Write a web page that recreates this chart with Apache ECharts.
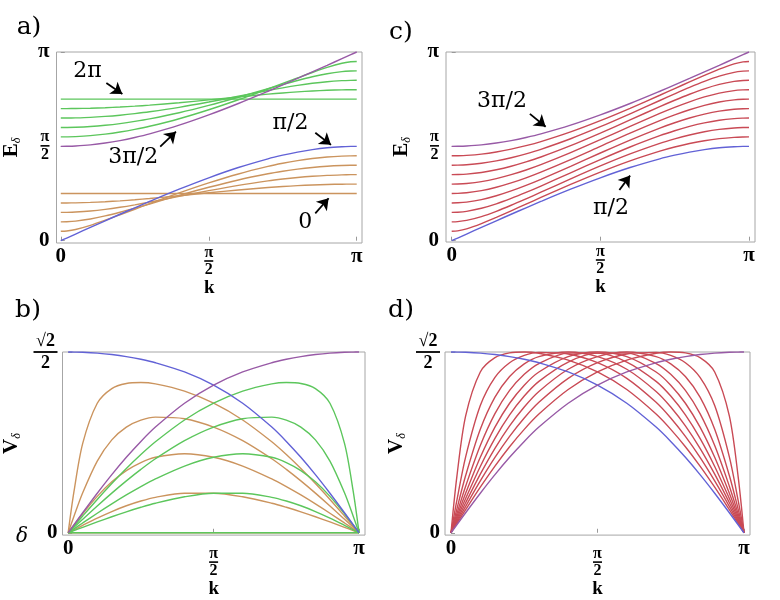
<!DOCTYPE html>
<html><head><meta charset="utf-8">
<script src="https://cdn.jsdelivr.net/npm/echarts@6/dist/echarts.min.js"></script>
<style>html,body{margin:0;padding:0;background:#fff}#c{width:780px;height:600px}</style>
</head><body><div id="c"></div>
<script>
// k sample points, in units of pi
const kGrid = [0,0.02,0.05,0.1,0.15,0.2,0.25,0.3,0.4,0.5,0.6,0.7,0.75,0.8,0.85,0.9,0.95,0.98,1];
// tick values (units of pi on k and E axes)
const kTicks = [0, 0.5, 1];
const eTicks = [0, 0.5, 1];
const vTicks = [0, 0.70711];

// ---- E_delta(k), units of pi ----
const eBlue   = [0,0.0141,0.0353,0.0706,0.1056,0.1402,0.1744,0.2081,0.2729,0.3333,0.3877,0.4339,0.4532,0.4696,0.4826,0.4922,0.4980,0.4997,0.5];
const ePurple = [0.5,0.5003,0.5020,0.5078,0.5174,0.5304,0.5468,0.5661,0.6123,0.6667,0.7271,0.7919,0.8256,0.8598,0.8944,0.9294,0.9647,0.9859,1];
const eOrange0 = [0.25,0.25,0.25,0.25,0.25,0.25,0.25,0.25,0.25,0.25,0.25,0.25,0.25,0.25,0.25,0.25,0.25,0.25,0.25];
const eOrange1 = [0.2,0.2001,0.2007,0.2029,0.2064,0.2112,0.2169,0.2235,0.2383,0.2539,0.2688,0.2817,0.2871,0.2916,0.2952,0.2979,0.2995,0.2999,0.3];
const eOrange2 = [0.15,0.1503,0.1519,0.1573,0.1659,0.1770,0.1900,0.2043,0.2348,0.2652,0.2932,0.3169,0.3267,0.3349,0.3414,0.3462,0.3490,0.3499,0.35];
const eOrange3 = [0.1,0.1007,0.1040,0.1151,0.1313,0.1509,0.1723,0.1947,0.2399,0.2830,0.3219,0.3545,0.3680,0.3793,0.3882,0.3947,0.3987,0.3998,0.4];
const eOrange4 = [0.05,0.0516,0.0595,0.0816,0.1086,0.1374,0.1667,0.1960,0.2530,0.3061,0.3537,0.3937,0.4103,0.4242,0.4353,0.4434,0.4484,0.4497,0.45];
const eGreen0 = [0.75,0.75,0.75,0.75,0.75,0.75,0.75,0.75,0.75,0.75,0.75,0.75,0.75,0.75,0.75,0.75,0.75,0.75,0.75];
const eGreen1 = [0.7,0.7001,0.7005,0.7021,0.7048,0.7084,0.7129,0.7183,0.7312,0.7461,0.7617,0.7765,0.7831,0.7888,0.7936,0.7971,0.7993,0.7999,0.8];
const eGreen2 = [0.65,0.6501,0.6510,0.6538,0.6586,0.6651,0.6733,0.6831,0.7068,0.7348,0.7652,0.7957,0.8100,0.8230,0.8341,0.8427,0.8481,0.8497,0.85];
const eGreen3 = [0.6,0.6002,0.6013,0.6053,0.6118,0.6207,0.6321,0.6455,0.6781,0.7170,0.7601,0.8053,0.8277,0.8491,0.8687,0.8849,0.8960,0.8993,0.9];
const eGreen4 = [0.55,0.5503,0.5516,0.5566,0.5647,0.5758,0.5897,0.6063,0.6463,0.6939,0.7470,0.8040,0.8333,0.8626,0.8914,0.9184,0.9405,0.9484,0.95];
const eRed1 = [0.05,0.0522,0.0627,0.0907,0.1238,0.1586,0.1939,0.2292,0.2982,0.3636,0.4232,0.4747,0.4965,0.5150,0.5300,0.5410,0.5477,0.5496,0.55];
const eRed2 = [0.1,0.1013,0.1077,0.1280,0.1559,0.1879,0.2220,0.2570,0.3275,0.3960,0.4597,0.5157,0.5397,0.5604,0.5773,0.5897,0.5974,0.5996,0.6];
const eRed3 = [0.15,0.1509,0.1557,0.1717,0.1952,0.2239,0.2558,0.2896,0.3598,0.4299,0.4966,0.5566,0.5827,0.6056,0.6243,0.6384,0.6471,0.6495,0.65];
const eRed4 = [0.2,0.2008,0.2046,0.2178,0.2382,0.2639,0.2934,0.3255,0.3942,0.4647,0.5334,0.5970,0.6252,0.6502,0.6710,0.6868,0.6966,0.6995,0.7];
const eRed5 = [0.25,0.2506,0.2539,0.2652,0.2830,0.3061,0.3333,0.3636,0.4299,0.5,0.5701,0.6364,0.6667,0.6939,0.7170,0.7348,0.7461,0.7494,0.75];
const eRed6 = [0.3,0.3005,0.3034,0.3132,0.3290,0.3498,0.3748,0.4030,0.4666,0.5353,0.6058,0.6745,0.7066,0.7361,0.7618,0.7822,0.7954,0.7992,0.8];
const eRed7 = [0.35,0.3505,0.3529,0.3616,0.3757,0.3944,0.4173,0.4434,0.5034,0.5701,0.6402,0.7104,0.7442,0.7761,0.8048,0.8283,0.8443,0.8491,0.85];
const eRed8 = [0.4,0.4004,0.4026,0.4103,0.4227,0.4396,0.4603,0.4843,0.5403,0.6040,0.6725,0.7430,0.7780,0.8121,0.8441,0.8720,0.8923,0.8987,0.9];
const eRed9 = [0.45,0.4504,0.4523,0.4590,0.4700,0.4850,0.5035,0.5253,0.5768,0.6364,0.7018,0.7708,0.8061,0.8414,0.8762,0.9093,0.9373,0.9478,0.95];

// ---- V_delta(k) ----
const vBlue   = [0.7071,0.7068,0.7060,0.7027,0.6971,0.6892,0.6786,0.6652,0.6290,0.5774,0.5067,0.4134,0.3574,0.2952,0.2273,0.1546,0.0782,0.0314,0];
const vPurple = [0,0.0314,0.0782,0.1546,0.2273,0.2952,0.3574,0.4134,0.5067,0.5774,0.6290,0.6652,0.6786,0.6892,0.6971,0.7027,0.7060,0.7068,0.7071];
const vZero   = [0,0,0,0,0,0,0,0,0,0,0,0,0,0,0,0,0,0,0];
const vOrange1 = [0,0.0118,0.0293,0.0574,0.0831,0.1056,0.1242,0.1386,0.1546,0.1546,0.1407,0.1156,0.0997,0.0820,0.0628,0.0425,0.0214,0.0086,0];
const vOrange2 = [0,0.0302,0.0744,0.1423,0.1992,0.2433,0.2748,0.2952,0.3090,0.2952,0.2610,0.2107,0.1806,0.1479,0.1129,0.0763,0.0384,0.0154,0];
const vOrange3 = [0,0.0648,0.1565,0.2804,0.3634,0.4134,0.4405,0.4523,0.4462,0.4134,0.3603,0.2894,0.2480,0.2031,0.1552,0.1049,0.0529,0.0212,0];
const vOrange4 = [0,0.1616,0.3498,0.5067,0.5641,0.5840,0.5876,0.5822,0.5539,0.5067,0.4411,0.3559,0.3060,0.2514,0.1927,0.1305,0.0659,0.0264,0];
const vGreen1 = [0,0.0086,0.0214,0.0425,0.0628,0.0820,0.0997,0.1156,0.1407,0.1546,0.1546,0.1386,0.1242,0.1056,0.0831,0.0574,0.0293,0.0118,0];
const vGreen2 = [0,0.0154,0.0384,0.0763,0.1129,0.1479,0.1806,0.2107,0.2610,0.2952,0.3090,0.2952,0.2748,0.2433,0.1992,0.1423,0.0744,0.0302,0];
const vGreen3 = [0,0.0212,0.0529,0.1049,0.1552,0.2031,0.2480,0.2894,0.3603,0.4134,0.4462,0.4523,0.4405,0.4134,0.3634,0.2804,0.1565,0.0648,0];
const vGreen4 = [0,0.0264,0.0659,0.1305,0.1927,0.2514,0.3060,0.3559,0.4411,0.5067,0.5539,0.5822,0.5876,0.5840,0.5641,0.5067,0.3498,0.1616,0];
const vRed1 = [0,0.2198,0.4571,0.6290,0.6850,0.7037,0.7070,0.7020,0.6753,0.6290,0.5603,0.4643,0.4045,0.3366,0.2609,0.1783,0.0905,0.0364,0];
const vRed2 = [0,0.1265,0.2969,0.4974,0.6079,0.6652,0.6937,0.7055,0.6994,0.6653,0.6040,0.5103,0.4490,0.3771,0.2947,0.2027,0.1034,0.0416,0];
const vRed3 = [0,0.0925,0.2239,0.4047,0.5304,0.6111,0.6605,0.6892,0.7071,0.6892,0.6396,0.5528,0.4921,0.4181,0.3302,0.2291,0.1175,0.0474,0];
const vRed4 = [0,0.0744,0.1823,0.3414,0.4660,0.5568,0.6199,0.6620,0.7027,0.7027,0.6679,0.5923,0.5347,0.4608,0.3690,0.2592,0.1340,0.0541,0];
const vRed5 = [0,0.0627,0.1546,0.2952,0.4134,0.5067,0.5774,0.6290,0.6892,0.7071,0.6892,0.6290,0.5774,0.5067,0.4134,0.2952,0.1546,0.0627,0];
const vRed6 = [0,0.0541,0.1340,0.2592,0.3690,0.4608,0.5347,0.5923,0.6679,0.7027,0.7027,0.6620,0.6199,0.5568,0.4660,0.3414,0.1823,0.0744,0];
const vRed7 = [0,0.0474,0.1175,0.2291,0.3302,0.4181,0.4921,0.5528,0.6396,0.6892,0.7071,0.6892,0.6605,0.6111,0.5304,0.4047,0.2239,0.0925,0];
const vRed8 = [0,0.0416,0.1034,0.2027,0.2947,0.3771,0.4490,0.5103,0.6040,0.6653,0.6994,0.7055,0.6937,0.6652,0.6079,0.4974,0.2969,0.1265,0];
const vRed9 = [0,0.0364,0.0905,0.1783,0.2609,0.3366,0.4045,0.4643,0.5603,0.6290,0.6753,0.7020,0.7070,0.7037,0.6850,0.6290,0.4571,0.2198,0];

const C = {blue:'#6262d6', purple:'#985aa6', orange:'#cb945e', green:'#5cc65c', red:'#c94a55'};
const SERIF = '"Liberation Serif", "Times New Roman", serif';
const TEXSERIF = '"DejaVu Serif", serif';

const chart = echarts.init(document.getElementById('c'), null, {renderer:'canvas'});

const tickRich = {
  t: {fontFamily:SERIF, fontWeight:'bold', fontSize:21, color:'#000'},
  sp:{fontSize:1, height:9, lineHeight:9, width:1, color:'rgba(0,0,0,0)'},
  n: {fontFamily:SERIF, fontWeight:'bold', fontSize:16, lineHeight:13, align:'center', color:'#000'},
  r: {fontFamily:SERIF, fontWeight:'bold', fontSize:18, lineHeight:17, align:'center', color:'#000'},
  l: {fontSize:1, width:9, height:1.6, lineHeight:4, backgroundColor:'#000', color:'rgba(0,0,0,0)', align:'center'},
  lw:{fontSize:1, width:24, height:1.8, lineHeight:5, backgroundColor:'#000', color:'rgba(0,0,0,0)', align:'center'},
  d: {fontFamily:SERIF, fontWeight:'bold', fontSize:16, lineHeight:14, align:'center', color:'#000'},
  dw:{fontFamily:SERIF, fontWeight:'bold', fontSize:18, lineHeight:17, align:'center', color:'#000'}
};
function kFmt(low){ return function(v){
  if (Math.abs(v) < 1e-6) return '{t|0}';
  if (Math.abs(v-0.5) < 1e-6) return (low ? '{sp|.}\n' : '') + '{n|π}\n{l|.}\n{d|2}';
  return '{t|π}';
};}
function eFmt(v){
  if (Math.abs(v) < 1e-6) return '{t|0}';
  if (Math.abs(v-0.5) < 1e-6) return '{n|π}\n{l|.}\n{d|2}';
  return '{t|π}';
}
function vFmt(v){
  if (Math.abs(v) < 1e-6) return '{t|0}';
  return '{r|√2}\n{lw|.}\n{dw|2}';
}
const nameRich = {
  e:{fontFamily:SERIF, fontWeight:'bold', fontSize:21, lineHeight:22, color:'#000'},
  s:{fontFamily:SERIF, fontStyle:'italic', fontSize:12, lineHeight:12, verticalAlign:'bottom', color:'#000'}
};

function xAxis(gi, min, max, low){
  return {type:'value', gridIndex:gi, min:min, max:max,
    axisLine:{show:false}, splitLine:{show:false},
    axisTick:{show:true, inside:true, length:4, customValues:kTicks, lineStyle:{color:'#999'}},
    axisLabel:{customValues:kTicks, formatter:kFmt(low), rich:tickRich, margin:3},
    name:'k', nameLocation:'middle', nameGap: low ? 34 : 26,
    nameTextStyle:{fontFamily:SERIF, fontWeight:'bold', fontSize:19, color:'#000'}};
}
function yAxisE(gi, min, gap){
  return {type:'value', gridIndex:gi, min:min, max:1,
    axisLine:{show:false}, splitLine:{show:false},
    axisTick:{show:true, inside:true, length:4, customValues:eTicks, lineStyle:{color:'#999'}},
    axisLabel:{customValues:eTicks, formatter:eFmt, rich:tickRich, margin:7},
    name:'{e|E}{s|δ}', nameLocation:'middle', nameRotate:90, nameGap:gap,
    nameTextStyle:{rich:nameRich}};
}
function yAxisV(gi, gap){
  return {type:'value', gridIndex:gi, min:-0.0091, max:0.70711,
    axisLine:{show:false}, splitLine:{show:false},
    axisTick:{show:true, inside:true, length:4, customValues:vTicks, lineStyle:{color:'#999'}},
    axisLabel:{customValues:vTicks, formatter:vFmt, rich:tickRich, margin:5},
    name:'{e|V}{s|δ}', nameLocation:'middle', nameRotate:90, nameGap:gap,
    nameTextStyle:{rich:nameRich}};
}
function line(gi, ys, color, extra){
  return Object.assign({type:'line', xAxisIndex:gi, yAxisIndex:gi,
    data: kGrid.map((k,i)=>[k, ys[i]]), smooth:0.3, symbol:'none', showSymbol:false,
    clip:false, silent:true, lineStyle:{color:color, width:1.4}, itemStyle:{color:color}}, extra||{});
}
const arrowStyle = {silent:true, symbol:['none','arrow'], symbolSize:11,
  lineStyle:{color:'#000', width:1.8, type:'solid'}, label:{show:false}, emphasis:{disabled:true}};
const textMark = (items)=>({silent:true, symbol:'circle', symbolSize:0,
  label:{show:true, position:'inside', formatter:p=>p.name, color:'#000', fontFamily:TEXSERIF, fontSize:22},
  data: items});

const series = [
  // panel a
  line(0, eOrange0, C.orange), line(0, eOrange1, C.orange), line(0, eOrange2, C.orange),
  line(0, eOrange3, C.orange), line(0, eOrange4, C.orange),
  line(0, eGreen0, C.green), line(0, eGreen1, C.green), line(0, eGreen2, C.green),
  line(0, eGreen3, C.green), line(0, eGreen4, C.green),
  line(0, ePurple, C.purple),
  line(0, eBlue, C.blue, {
    markLine: Object.assign({}, arrowStyle, {data:[
      [{coord:[0.154,0.836]},{coord:[0.208,0.777]}],
      [{coord:[0.336,0.498]},{coord:[0.389,0.578]}],
      [{coord:[0.860,0.572]},{coord:[0.913,0.508]}],
      [{coord:[0.860,0.145]},{coord:[0.905,0.225]}]
    ]}),
    markPoint: textMark([
      {name:'2π', coord:[0.090,0.899]},
      {name:'3π/2', coord:[0.245,0.444]},
      {name:'π/2', coord:[0.776,0.621]},
      {name:'0', coord:[0.826,0.099]}
    ])
  }),
  // panel b
  line(1, vZero, C.orange), line(1, vOrange1, C.orange), line(1, vOrange2, C.orange),
  line(1, vOrange3, C.orange), line(1, vOrange4, C.orange),
  line(1, vZero, C.green), line(1, vGreen1, C.green), line(1, vGreen2, C.green),
  line(1, vGreen3, C.green), line(1, vGreen4, C.green),
  line(1, vBlue, C.blue), line(1, vPurple, C.purple),
  // panel c
  line(2, eRed1, C.red), line(2, eRed2, C.red), line(2, eRed3, C.red), line(2, eRed4, C.red),
  line(2, eRed5, C.red), line(2, eRed6, C.red), line(2, eRed7, C.red), line(2, eRed8, C.red),
  line(2, eRed9, C.red), line(2, ePurple, C.purple),
  line(2, eBlue, C.blue, {
    markLine: Object.assign({}, arrowStyle, {data:[
      [{coord:[0.263,0.672]},{coord:[0.316,0.604]}],
      [{coord:[0.564,0.269]},{coord:[0.600,0.345]}]
    ]}),
    markPoint: textMark([
      {name:'3π/2', coord:[0.169,0.740]},
      {name:'π/2', coord:[0.536,0.171]}
    ])
  }),
  // panel d
  line(3, vRed1, C.red), line(3, vRed2, C.red), line(3, vRed3, C.red), line(3, vRed4, C.red),
  line(3, vRed5, C.red), line(3, vRed6, C.red), line(3, vRed7, C.red), line(3, vRed8, C.red),
  line(3, vRed9, C.red), line(3, vBlue, C.blue), line(3, vPurple, C.purple)
];

function panelText(t, x, y, size, style){
  return {type:'text', x:x, y:y, silent:true, z:10,
    style:{text:t, font:(style||'')+' '+size+'px '+TEXSERIF, fill:'#000',
      align:'center', verticalAlign:'middle', textAlign:'center', textVerticalAlign:'middle'}};
}

const gridStyle = {show:true, borderColor:'#a6a6a6', borderWidth:1, backgroundColor:'transparent', containLabel:false};
chart.setOption({
  animation:false,
  backgroundColor:'#fff',
  grid:[
    Object.assign({left:55, top:52, width:307, height:191}, gridStyle),
    Object.assign({left:61, top:352, width:304, height:189}, gridStyle),
    Object.assign({left:446, top:52, width:309, height:190}, gridStyle),
    Object.assign({left:445, top:352, width:305, height:189}, gridStyle)
  ],
  xAxis:[
    xAxis(0, -0.0145, 1.0178, false),
    xAxis(1, -0.0195, 1.0205, true),
    xAxis(2, -0.0192, 1.0202, false),
    xAxis(3, -0.0205, 1.0205, true)
  ],
  yAxis:[
    yAxisE(0, -0.0122, 34),
    yAxisV(1, 40),
    yAxisE(2, -0.0069, 33),
    yAxisV(3, 37)
  ],
  graphic:[
    panelText('a)', 29, 27, 25),
    panelText('b)', 28, 310, 25),
    panelText('c)', 401, 32, 25),
    panelText('d)', 401, 310, 25),
    panelText('δ', 22, 537, 20, 'italic')
  ],
  series: series
});
</script></body></html>
